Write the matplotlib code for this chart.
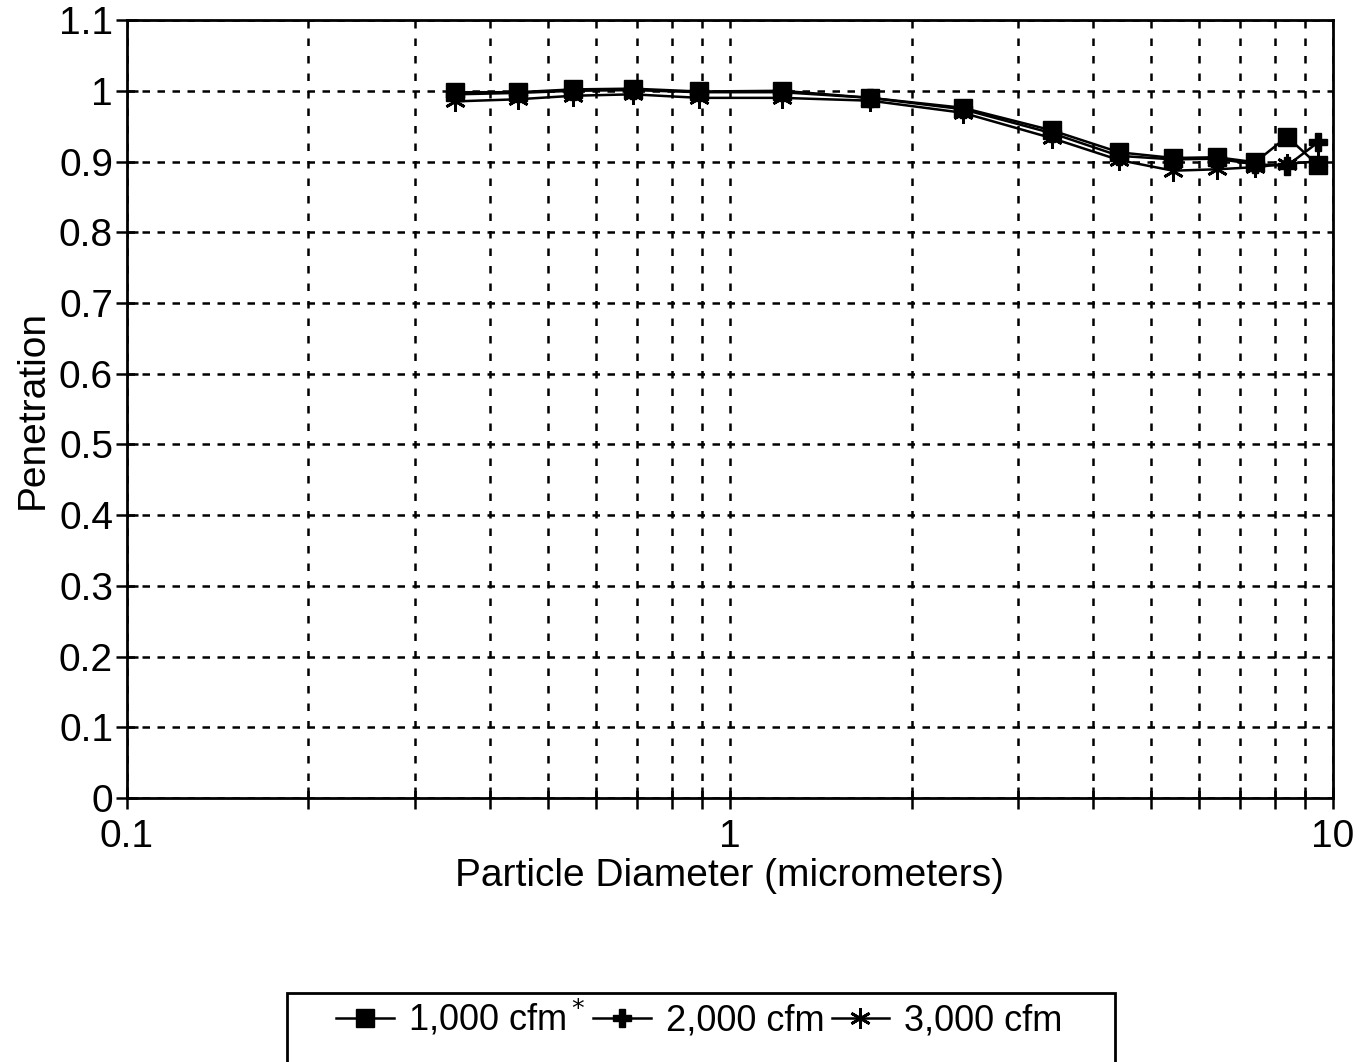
import matplotlib.pyplot as plt
from matplotlib.patches import Rectangle
from matplotlib.ticker import FixedLocator, NullFormatter

plt.rcParams['font.family'] = ['Liberation Sans', 'DejaVu Sans']

# particle diameters (micrometers)
diameter = [0.35, 0.445, 0.55, 0.69, 0.89, 1.22, 1.71, 2.43, 3.42, 4.42,
            5.43, 6.42, 7.43, 8.39, 9.44]

pen_1000 = [0.998, 0.998, 1.002, 1.003, 0.999, 1.0, 0.99, 0.976, 0.944, 0.913,
            0.905, 0.906, 0.899, 0.935, 0.895]
pen_2000 = [0.995, 0.997, 1.0, 1.001, 0.998, 0.998, 0.99, 0.974, 0.94, 0.908,
            0.903, 0.904, 0.896, 0.894, 0.927]
pen_3000 = [0.985, 0.988, 0.993, 0.995, 0.99, 0.99, 0.986, 0.969, 0.933, 0.902,
            0.887, 0.889, 0.892, 0.897, 0.9]

labels = ['1,000 cfm$^*$', '2,000 cfm', '3,000 cfm']

fig = plt.figure(figsize=(13.71, 10.62), dpi=100)
ax = fig.add_axes([0.0926, 0.2486, 0.8797, 0.7325])

ax.plot(diameter, pen_1000, color='black', lw=1.8, marker='s', ms=13,
        label=labels[0])
ax.plot(diameter, pen_2000, color='black', lw=1.8, marker='P', ms=13,
        label=labels[1])
ax.plot(diameter, pen_3000, color='black', lw=1.8, marker=(6, 2, 0), ms=15,
        mew=2, label=labels[2])

ax.set_xscale('log')
ax.set_xlim(0.1, 10)
ax.set_ylim(0, 1.1)
ax.set_yticks([0, 0.1, 0.2, 0.3, 0.4, 0.5, 0.6, 0.7, 0.8, 0.9, 1, 1.1])
ax.set_yticklabels(['0', '0.1', '0.2', '0.3', '0.4', '0.5', '0.6', '0.7',
                    '0.8', '0.9', '1', '1.1'])
ax.set_xticks([0.1, 1, 10])
ax.set_xticklabels(['0.1', '1', '10'])
ax.xaxis.set_minor_locator(FixedLocator(
    [m * d for d in (0.1, 1) for m in range(2, 10)]))
ax.xaxis.set_minor_formatter(NullFormatter())

ax.grid(True, which='both', axis='x', color='black', ls=(0, (3, 4)), lw=1.8)
ax.grid(True, which='major', axis='y', color='black', ls=(0, (3, 3)), lw=1.8)

ax.tick_params(axis='both', which='both', direction='inout', labelsize=28,
               width=1.8, color='black')
ax.tick_params(axis='both', which='major', length=16)
ax.tick_params(axis='x', which='minor', length=16)
ax.tick_params(axis='x', pad=7)
ax.tick_params(axis='y', pad=2)
for s in ax.spines.values():
    s.set_linewidth(2)

ax.set_xlabel('Particle Diameter (micrometers)', fontsize=28, labelpad=2)
ax.set_ylabel('Penetration', fontsize=28, labelpad=6)

fig.patches.append(Rectangle((0.209, -0.01), 0.604, 0.075,
                             transform=fig.transFigure, fill=False,
                             edgecolor='black', lw=2))
fig.legend(loc='center', bbox_to_anchor=(0.51, 0.041), ncol=3, frameon=False,
           fontsize=26, handlelength=1.6, columnspacing=0.2, handletextpad=0.4)

fig.savefig('out.png')
